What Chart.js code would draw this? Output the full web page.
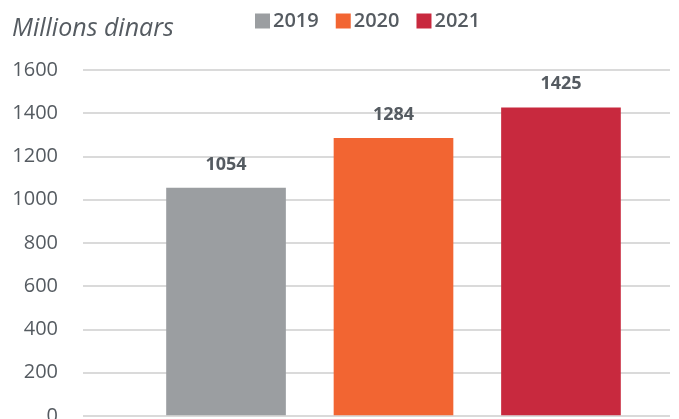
<!DOCTYPE html>
<html>
<head>
<meta charset="utf-8">
<script src="https://cdn.jsdelivr.net/npm/chart.js@4/dist/chart.umd.min.js"></script>
<style>
  html, body { margin: 0; padding: 0; background: #fff; overflow: hidden; }
  .wrap { position: relative; width: 679px; height: 453px; }
  canvas { display: block; }
  .unit-title {
    position: absolute; left: 12px; top: 9px;
    font-family: "Open Sans", sans-serif; font-style: italic;
    font-size: 25px; line-height: 1.362; color: #555b61; white-space: nowrap;
  }
</style>
</head>
<body>
<div class="wrap">
  <div class="unit-title">Millions dinars</div>
  <canvas id="myChart" width="679" height="453"></canvas>
</div>
<script>
/* data */
const years = [2019, 2020, 2021];
const values = [1054, 1284, 1425];
const barColors = ['#9b9ea1', '#f26532', '#c8293e'];
const yTicks = [0, 200, 400, 600, 800, 1000, 1200, 1400, 1600];

const textColor = '#555b61';

/* value labels above bars */
const valueLabels = {
  id: 'valueLabels',
  afterDatasetsDraw(chart) {
    const ctx = chart.ctx;
    const meta = chart.getDatasetMeta(0);
    ctx.save();
    ctx.font = 'bold 18px "Open Sans", sans-serif';
    ctx.fillStyle = textColor;
    ctx.textAlign = 'center';
    ctx.textBaseline = 'middle';
    meta.data.forEach((bar, i) => {
      ctx.fillText(values[i], bar.x, bar.y - 23.5);
    });
    ctx.restore();
  }
};

/* move legend to the top row */
const legendPlace = {
  id: 'legendPlace',
  afterLayout(chart) {
    const lg = chart.legend;
    lg.left = 238;
    lg.right = 679;
    lg.top = -13;
  }
};

const ctx = document.getElementById('myChart').getContext('2d');

new Chart(ctx, {
  type: 'bar',
  data: {
    datasets: [{
      data: years.map((y, i) => ({ x: y, y: values[i] })),
      backgroundColor: barColors,
      borderWidth: 0,
      barThickness: 119
    }]
  },
  options: {
    responsive: false,
    animation: false,
    layout: { padding: { left: 0, right: 9, top: 16, bottom: 16 } },
    plugins: {
      legend: {
        position: 'top',
        align: 'start',
        labels: {
          usePointStyle: true,
          pointStyle: 'rect',
          boxWidth: 1,
          boxHeight: 15,
          padding: 24,
          color: textColor,
          font: { family: '"Open Sans", sans-serif', size: 20, weight: 600 },
          generateLabels: () => years.map((y, i) => ({
            text: String(y),
            fillStyle: barColors[i],
            strokeStyle: barColors[i],
            lineWidth: 0,
            pointStyle: 'rect',
            fontColor: textColor,
            hidden: false,
            index: i
          }))
        }
      },
      tooltip: { enabled: false }
    },
    scales: {
      x: {
        type: 'linear',
        offset: false,
        min: 2018.146,
        max: 2021.651,
        display: false
      },
      y: {
        min: 0,
        max: 1600,
        afterBuildTicks: scale => {
          scale.ticks = yTicks.map(v => ({ value: v }));
        },
        afterFit: scale => { scale.width = 83; },
        border: { display: false },
        grid: { color: '#dadada', lineWidth: 2, drawTicks: false },
        ticks: {
          padding: 25,
          color: textColor,
          font: { family: '"Open Sans", sans-serif', size: 20 },
          callback: v => String(v)
        }
      }
    }
  },
  plugins: [valueLabels, legendPlace]
});
</script>
</body>
</html>
